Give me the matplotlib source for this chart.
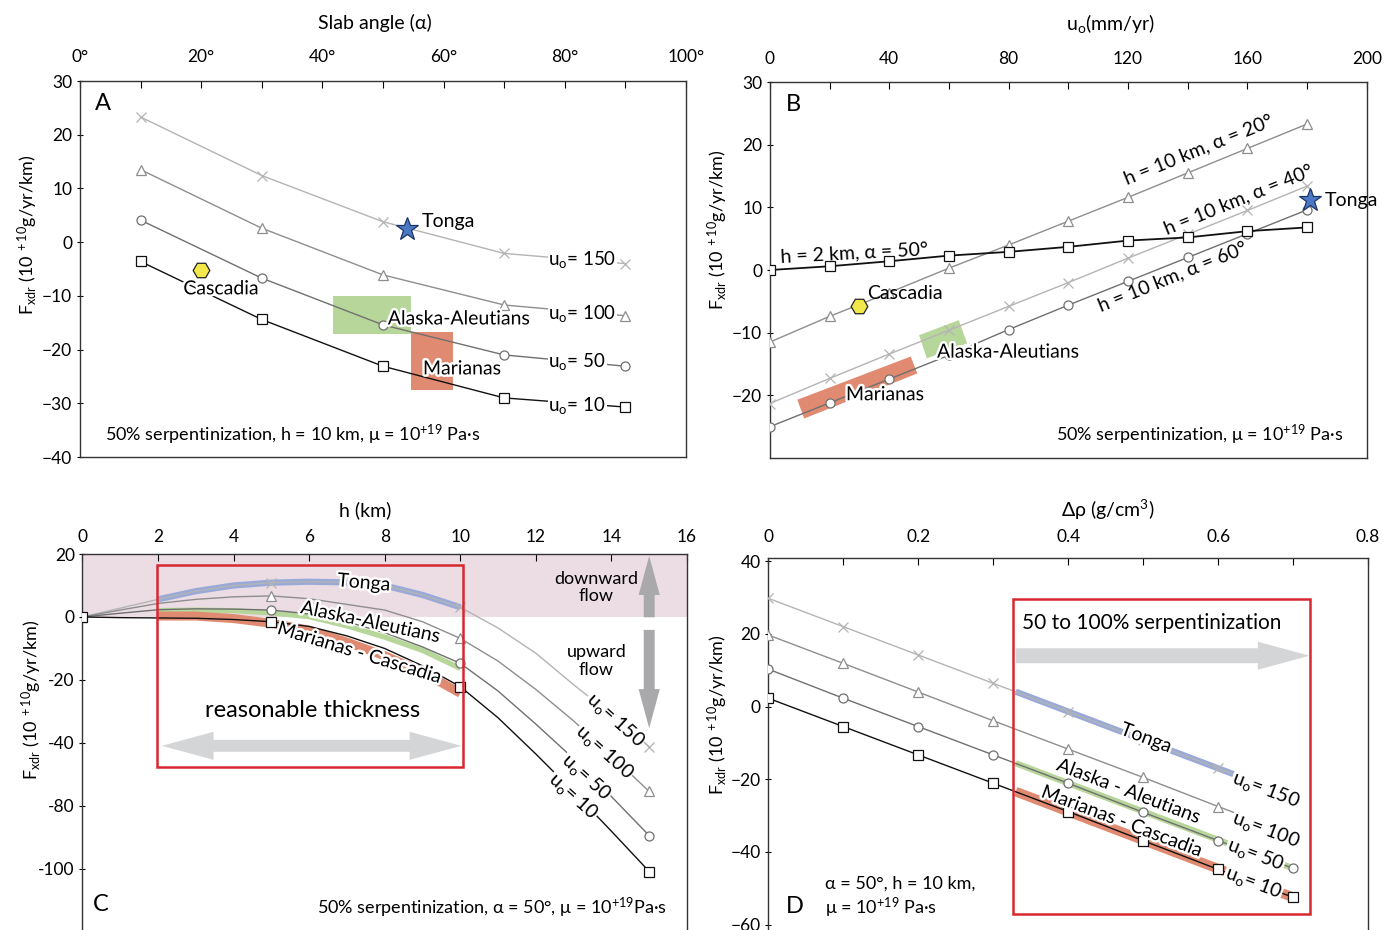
'''
Four panel figure of F_xdr against slab angle, u_o, h and density contrast
'''
import matplotlib
matplotlib.use('Agg')
import matplotlib.pyplot as plt
import matplotlib.patheffects as pe
from matplotlib.patches import Polygon, Rectangle, FancyArrow

plt.rcParams['font.family'] = ['Lato', 'DejaVu Sans']
plt.rcParams['mathtext.fontset'] = 'custom'
plt.rcParams['mathtext.rm'] = 'Lato'
plt.rcParams['mathtext.it'] = 'Lato:italic'
plt.rcParams['mathtext.bf'] = 'Lato:bold'

# ---------------- data: panel A (slab angle) ----------------
angle = [10, 30, 50, 70, 90]
a_u150 = [23.3, 12.4, 3.8, -2.1, -4.0]
a_u100 = [13.5, 2.6, -6.1, -11.7, -13.7]
a_u50 = [4.1, -6.7, -15.4, -21.0, -23.1]
a_u10 = [-3.6, -14.4, -23.1, -29.0, -30.7]
a_tonga = (54, 2.5)
a_cascadia = (20, -5.2)
a_alaska_box = (41.7, 54.6, -17.1, -10.1)     # x0, x1, y0, y1
a_marianas_box = (54.6, 61.6, -27.6, -16.8)

# ---------------- data: panel B (u_o) ----------------
u_o = [0, 20, 40, 60, 80, 100, 120, 140, 160, 180]
b_h2_a50 = [0.0, 0.6, 1.4, 2.3, 2.9, 3.7, 4.7, 5.2, 6.2, 6.8]
b_a20 = [-11.5, -7.4, -3.6, 0.3, 4.0, 7.8, 11.6, 15.5, 19.4, 23.3]
b_a40 = [-21.3, -17.3, -13.4, -9.6, -5.8, -2.0, 1.9, 5.7, 9.5, 13.4]
b_a60 = [-25.0, -21.2, -17.4, -13.6, -9.5, -5.6, -1.8, 2.0, 5.8, 9.6]
b_tonga = (181, 11.1)
b_cascadia = (30, -5.8)
b_alaska_poly = [(50.0, -10.4), (63.3, -8.0), (66.1, -11.7), (52.6, -14.1)]
b_marianas_poly = [(9.2, -20.7), (47.2, -13.8), (49.4, -16.5), (11.5, -23.7)]

# ---------------- data: panel C (h) ----------------
h_km = [0, 1, 2, 3, 4, 5, 6, 7, 8, 9, 10, 11, 12, 13, 14, 15]
c_u150 = [0, 2.8, 5.6, 8.2, 10.0, 10.9, 11.2, 11.0, 10.0, 7.0, 3.1,
          -3.5, -11.5, -21.5, -31.0, -41.2]
c_u100 = [0, 2.2, 4.3, 5.6, 6.4, 6.7, 5.8, 4.0, 2.2, -1.5, -6.8,
          -14.0, -23.0, -33.0, -44.0, -55.4]
c_u50 = [0, 1.2, 2.3, 2.6, 2.5, 2.2, 1.0, -1.5, -5.0, -9.5, -14.7,
         -23.5, -34.0, -45.0, -57.0, -69.4]
c_u10 = [0, -0.2, -0.3, -0.4, -0.8, -1.5, -3.0, -6.0, -10.0, -15.5, -22.1,
         -32.0, -43.5, -55.5, -68.0, -80.8]
h_band = [2, 3, 4, 5, 6, 7, 8, 9, 10]
c_tonga = [5.6, 8.2, 10.0, 10.9, 11.2, 11.0, 10.0, 7.0, 3.1]
c_alaska = [2.0, 2.2, 2.0, 1.3, 0.1, -2.8, -6.4, -10.6, -16.3]
c_marianas = [0.3, 0.3, -0.5, -2.0, -4.2, -8.0, -12.3, -17.5, -24.2]
c_yticks = [20, 0, -20, -40, -60, -80]
c_ylabels = ['20', '0', '-20', '-40', '-80', '-100']

# ---------------- data: panel D (density contrast) ----------------
drho = [0, 0.1, 0.2, 0.3, 0.4, 0.5, 0.6, 0.7]
d_u150 = [29.8, 22.0, 14.2, 6.4, -1.4, -9.2, -17.0, -24.8]
d_u100 = [19.7, 11.9, 4.0, -3.9, -11.7, -19.5, -27.5, -35.3]
d_u50 = [10.3, 2.3, -5.5, -13.3, -21.1, -29.1, -36.9, -44.5]
d_u10 = [2.3, -5.5, -13.3, -21.1, -28.9, -36.9, -44.8, -52.5]
d_band_x = [0.33, 0.7]
d_tonga = [4.1, -24.8]
d_alaska = [-15.6, -44.5]
d_marianas = [-23.4, -52.5]

# colours
C150, C100, C50, C10 = '#b4b4b4', '#8e8e8e', '#707070', '#111111'
BLUE, GREEN, RED = '#9aaad8', '#b7d69a', '#e08a72'
BOXRED = '#d8282f'
YLAB = r'F$_{\mathrm{xdr}}$ (10$^{\ +10}$g/yr/km)'
U = r'u$_{\mathrm{o}}$'
halo = [pe.withStroke(linewidth=3.5, foreground='white')]
wbox = dict(fc='white', ec='none', pad=0.5)


def series(ax, x, y, color, marker, lw=1.0, ms=6.5, mevery=None):
    ax.plot(x, y, color=color, lw=lw, marker=marker, ms=ms, mfc='white',
            mec=color, mew=0.9, zorder=3, markevery=mevery)


def style(ax, xlabel, xmaj, xlabs, xmin, tpad, xlpos, ylpos):
    ax.xaxis.tick_top()
    ax.xaxis.set_label_position('top')
    ax.set_xticks(xmaj)
    ax.set_xticklabels(xlabs)
    ax.set_xticks(xmin, minor=True)
    ax.tick_params(axis='x', which='both', direction='in', length=5,
                   width=0.8, pad=tpad, labelsize=12.5)
    ax.tick_params(axis='y', direction='inout', length=5, width=0.8,
                   pad=3, labelsize=12.5)
    ax.set_xlabel(xlabel, fontsize=14)
    ax.xaxis.set_label_coords(*xlpos)
    ax.set_ylabel(YLAB, fontsize=13)
    ax.yaxis.set_label_coords(*ylpos)
    for s in ax.spines.values():
        s.set_linewidth(1.0)
        s.set_color('#333333')


fig = plt.figure(figsize=(14, 9.3), dpi=100)

# ================= panel A =================
ax = fig.add_axes([0.0571, 0.5086, 0.4329, 0.4043])
ax.set_xlim(0, 100)
ax.set_ylim(-40, 30)
style(ax, 'Slab angle (α)', [0, 20, 40, 60, 80, 100],
      ['0°', '20°', '40°', '60°', '80°', '100°'], [10, 30, 50, 70, 90],
      11.5, (0.487, 1.138), (-0.066, 0.59))
ax.set_yticks([30, 20, 10, 0, -10, -20, -30, -40])
ax.add_patch(Rectangle((a_alaska_box[0], a_alaska_box[2]),
                       a_alaska_box[1] - a_alaska_box[0],
                       a_alaska_box[3] - a_alaska_box[2],
                       fc=GREEN, ec='none', zorder=1))
ax.add_patch(Rectangle((a_marianas_box[0], a_marianas_box[2]),
                       a_marianas_box[1] - a_marianas_box[0],
                       a_marianas_box[3] - a_marianas_box[2],
                       fc=RED, ec='none', zorder=1))
series(ax, angle, a_u150, C150, 'x', ms=7)
series(ax, angle, a_u100, C100, '^')
series(ax, angle, a_u50, C50, 'o')
series(ax, angle, a_u10, C10, 's')
ax.plot(*a_tonga, marker='*', ms=17, mfc='#4a78c2', mec='#1d3566',
        mew=0.9, zorder=5)
ax.plot(*a_cascadia, marker='H', ms=12, mfc='#f3e84a', mec='#222222',
        mew=0.9, zorder=5)
ax.text(56.4, 3.9, 'Tonga', fontsize=14, va='center', zorder=6)
ax.text(23.3, -8.7, 'Cascadia', fontsize=14, ha='center', va='center',
        path_effects=halo, zorder=6)
ax.text(50.8, -14.3, 'Alaska-Aleutians', fontsize=14, va='center',
        path_effects=halo, zorder=6)
ax.text(56.6, -23.6, 'Marianas', fontsize=14, va='center',
        path_effects=halo, zorder=6)
for lab, yy in [('= 150', -3.3), ('= 100', -13.2), ('= 50', -22.3),
                ('= 10', -30.5)]:
    ax.text(77.3, yy, U + lab, fontsize=13.5, va='center', bbox=wbox,
            zorder=6)
ax.text(2.5, 25.8, 'A', fontsize=17, va='center')
ax.text(4.1, -35.9, r'50% serpentinization, h = 10 km, μ = 10$^{+19}$ Pa·s',
        fontsize=13, va='center')

# ================= panel B =================
ax = fig.add_axes([0.5499, 0.5075, 0.4264, 0.4043])
ax.set_xlim(0, 200)
ax.set_ylim(-30, 30)
style(ax, U + '(mm/yr)', [0, 40, 80, 120, 160, 200],
      ['0', '40', '80', '120', '160', '200'],
      [20, 60, 100, 140, 180], 11, (0.57, 1.138), (-0.067, 0.606))
ax.set_yticks([30, 20, 10, 0, -10, -20])
ax.add_patch(Polygon(b_alaska_poly, closed=True, fc=GREEN, ec='none',
                     zorder=1))
ax.add_patch(Polygon(b_marianas_poly, closed=True, fc=RED, ec='none',
                     zorder=1))
series(ax, u_o, b_a20, C100, '^')
series(ax, u_o, b_a40, C150, 'x', ms=7)
series(ax, u_o, b_a60, C50, 'o')
series(ax, u_o, b_h2_a50, C10, 's', lw=1.3)
ax.plot(*b_tonga, marker='*', ms=17, mfc='#4a78c2', mec='#1d3566',
        mew=0.9, zorder=5)
ax.plot(*b_cascadia, marker='H', ms=12, mfc='#f3e84a', mec='#222222',
        mew=0.9, zorder=5)
ax.text(186, 11.1, 'Tonga', fontsize=14, va='center', zorder=6)
ax.text(32.5, -3.8, 'Cascadia', fontsize=14, va='center', zorder=6)
ax.text(56, -13.1, 'Alaska-Aleutians', fontsize=14, va='center',
        path_effects=halo, zorder=6)
ax.text(25.5, -19.9, 'Marianas', fontsize=14, va='center',
        path_effects=halo, zorder=6)
ax.text(3.4, 2.7, 'h = 2 km, α = 50°', fontsize=14, va='center',
        rotation=3, zorder=6)
for xx, yy, lab in [(143.8, 19.2, 'h = 10 km, α = 20°'),
                    (157.2, 11.3, 'h = 10 km, α = 40°'),
                    (134.8, -1.0, 'h = 10 km, α = 60°')]:
    ax.text(xx, yy, lab, fontsize=14, ha='center', va='center',
            rotation=22, rotation_mode='anchor', zorder=6)
ax.text(5.4, 26.4, 'B', fontsize=17, va='center')
ax.text(192, -26.3, r'50% serpentinization, μ = 10$^{+19}$ Pa·s',
        fontsize=13, ha='right', va='center')

# ================= panel C =================
ax = fig.add_axes([0.0589, -0.0089, 0.4318, 0.4132])
ax.set_xlim(0, 16)
ax.set_ylim(-102, 20)
style(ax, 'h (km)', [0, 2, 4, 6, 8, 10, 12, 14, 16],
      ['0', '2', '4', '6', '8', '10', '12', '14', '16'], [], 6.5,
      (0.467, 1.099), (-0.064, 0.62))
ax.set_yticks(c_yticks)
ax.set_yticklabels(c_ylabels)
ax.axhspan(0, 20, fc='#ecdde5', ec='none', zorder=0)
ax.plot(h_band, c_tonga, color=BLUE, lw=4.5, solid_capstyle='butt', zorder=2)
ax.plot(h_band, c_alaska, color=GREEN, lw=3.8, solid_capstyle='butt',
        zorder=2)
ax.plot(h_band, c_marianas, color=RED, lw=6.5, solid_capstyle='butt',
        zorder=2)
series(ax, h_km, c_u150, C150, 'x', ms=7, mevery=5)
series(ax, h_km, c_u100, C100, '^', mevery=5)
series(ax, h_km, c_u50, C50, 'o', mevery=5)
series(ax, h_km, c_u10, C10, 's', mevery=5)
ax.add_patch(Rectangle((1.98, -47.5), 8.08, 64.0, fc='none', ec=BOXRED,
                       lw=1.8, zorder=4))
ax.add_patch(FancyArrow(6.05, -40.9, 3.98, 0, width=3.8, head_width=8.9,
                        head_length=1.37, length_includes_head=True,
                        fc='#d4d5d7', ec='none', zorder=4))
ax.add_patch(FancyArrow(6.05, -40.9, -3.95, 0, width=3.8, head_width=8.9,
                        head_length=1.37, length_includes_head=True,
                        fc='#d4d5d7', ec='none', zorder=4))
ax.add_patch(FancyArrow(15.0, -0.1, 0, 19.5, width=0.29, head_width=0.56,
                        head_length=12.4, length_includes_head=True,
                        fc='#a9a9ab', ec='none', zorder=4))
ax.add_patch(FancyArrow(15.0, -4.1, 0, -31.2, width=0.29, head_width=0.56,
                        head_length=12.4, length_includes_head=True,
                        fc='#a9a9ab', ec='none', zorder=4))
ax.text(6.08, -29.8, 'reasonable thickness', fontsize=17, ha='center',
        va='center', zorder=6)
ax.text(13.6, 9.4, 'downward\nflow', fontsize=13, ha='center', va='center',
        linespacing=1.1, zorder=6)
ax.text(13.6, -14.0, 'upward\nflow', fontsize=13, ha='center', va='center',
        linespacing=1.1, zorder=6)
ax.text(7.45, 10.8, 'Tonga', fontsize=14, ha='center', va='center',
        rotation=-5, path_effects=halo, zorder=6)
ax.text(7.63, -1.7, 'Alaska-Aleutians', fontsize=14, ha='center',
        va='center', rotation=-12, path_effects=halo, zorder=6)
ax.text(7.34, -11.5, 'Marianas - Cascadia', fontsize=14, ha='center',
        va='center', rotation=-17, path_effects=halo, zorder=6)
for xx, yy, lab in [(14.1, -32.7, '= 150'), (13.82, -42.8, '= 100'),
                    (13.34, -50.7, '= 50'), (12.98, -57.0, '= 10')]:
    ax.text(xx, yy, U + lab, fontsize=14, ha='center', va='center',
            rotation=-42, bbox=wbox, zorder=6)
ax.text(0.28, -91.4, 'C', fontsize=17, va='center')
ax.text(15.46, -92.4, r'50% serpentinization, α = 50°, μ = 10$^{+19}$Pa·s',
        fontsize=13, ha='right', va='center')

# ================= panel D =================
ax = fig.add_axes([0.5488, -0.0059, 0.4284, 0.4063])
ax.set_xlim(0, 0.8)
ax.set_ylim(-63, 41)
style(ax, r'Δρ (g/cm$^{3}$)', [0, 0.2, 0.4, 0.6, 0.8],
      ['0', '0.2', '0.4', '0.6', '0.8'], [0.1, 0.3, 0.5, 0.7], 9,
      (0.566, 1.108), (-0.064, 0.584))
ax.set_yticks([40, 20, 0, -20, -40, -60])
ax.plot(d_band_x, d_tonga, color=BLUE, lw=4.5, solid_capstyle='butt',
        zorder=2)
ax.plot(d_band_x, d_alaska, color=GREEN, lw=4.5, solid_capstyle='butt',
        zorder=2)
ax.plot(d_band_x, d_marianas, color=RED, lw=7, solid_capstyle='butt',
        zorder=2)
series(ax, drho, d_u150, C150, 'x', ms=7)
series(ax, drho, d_u100, C100, '^')
series(ax, drho, d_u50, C50, 'o')
series(ax, drho, d_u10, C10, 's')
ax.add_patch(Rectangle((0.326, -57.1), 0.396, 86.7, fc='none', ec=BOXRED,
                       lw=1.8, zorder=4))
ax.add_patch(FancyArrow(0.330, 14.0, 0.392, 0, width=4.1, head_width=7.7,
                        head_length=0.069, length_includes_head=True,
                        fc='#d4d5d7', ec='none', zorder=4))
ax.text(0.339, 23.0, '50 to 100% serpentinization', fontsize=15,
        va='center', zorder=6)
for xx, yy, lab in [(0.504, -8.7, 'Tonga'),
                    (0.481, -23.4, 'Alaska - Aleutians'),
                    (0.472, -31.7, 'Marianas - Cascadia')]:
    ax.text(xx, yy, lab, fontsize=14, ha='center', va='center',
            rotation=-20.7, path_effects=halo, zorder=6)
for xx, yy, lab in [(0.664, -23.0, '= 150'), (0.664, -34.0, '= 100'),
                    (0.650, -40.8, '= 50'), (0.647, -48.6, '= 10')]:
    ax.text(xx, yy, U + lab, fontsize=14, ha='center', va='center',
            rotation=-20.7, bbox=wbox, zorder=6)
ax.text(0.023, -55.1, 'D', fontsize=17, va='center')
ax.text(0.0756, -48.6, 'α = 50°, h = 10 km,', fontsize=13, va='center')
ax.text(0.0756, -55.5, r'μ = 10$^{+19}$ Pa·s', fontsize=13, va='center')

fig.savefig('out.png', dpi=100)
